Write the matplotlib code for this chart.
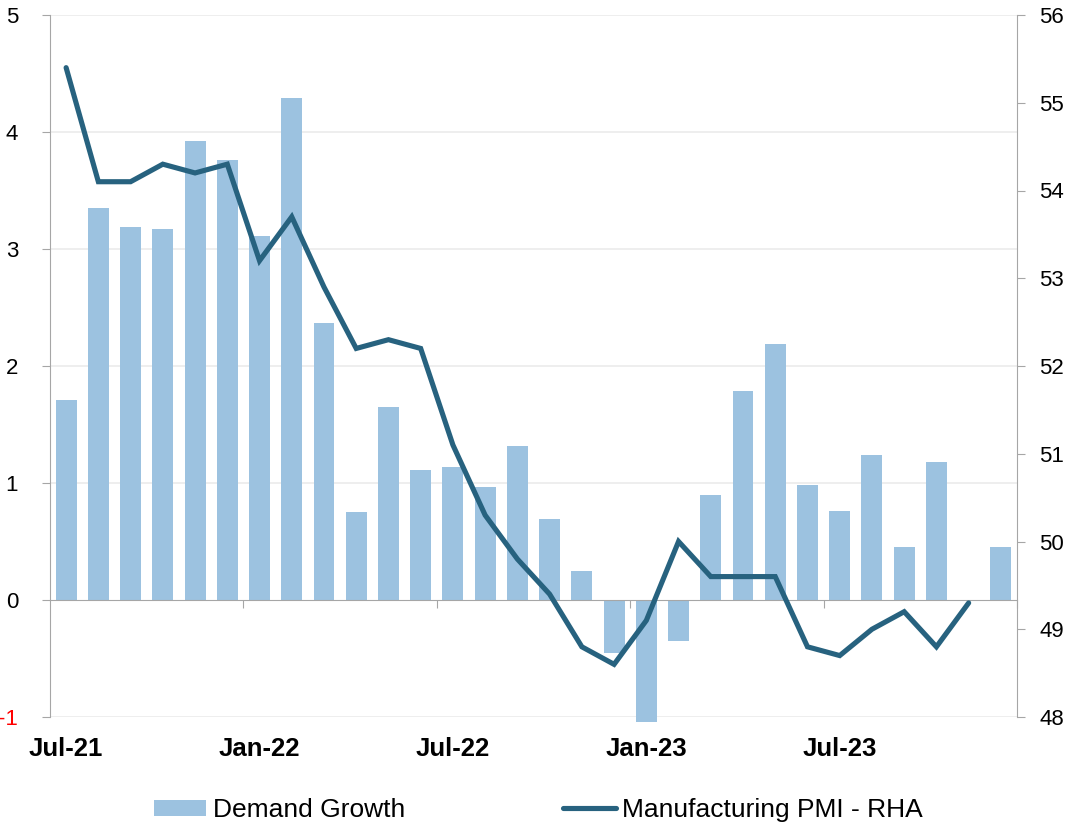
import numpy as np
import matplotlib.pyplot as plt
from matplotlib.ticker import FuncFormatter
import matplotlib.transforms as mtransforms

plt.rcParams['font.family'] = ['Liberation Sans', 'DejaVu Sans']

# monthly data, Jul-21 .. Dec-23
months = ['Jul-21', 'Aug-21', 'Sep-21', 'Oct-21', 'Nov-21', 'Dec-21',
          'Jan-22', 'Feb-22', 'Mar-22', 'Apr-22', 'May-22', 'Jun-22',
          'Jul-22', 'Aug-22', 'Sep-22', 'Oct-22', 'Nov-22', 'Dec-22',
          'Jan-23', 'Feb-23', 'Mar-23', 'Apr-23', 'May-23', 'Jun-23',
          'Jul-23', 'Aug-23', 'Sep-23', 'Oct-23', 'Nov-23', 'Dec-23']
demand_growth = [1.71, 3.35, 3.19, 3.17, 3.92, 3.76,
                 3.11, 4.29, 2.37, 0.75, 1.65, 1.11,
                 1.14, 0.97, 1.32, 0.69, 0.25, -0.45,
                 -1.04, -0.35, 0.90, 1.79, 2.19, 0.98,
                 0.76, 1.24, 0.45, 1.18, np.nan, 0.455]
pmi = [55.4, 54.1, 54.1, 54.3, 54.2, 54.3,
       53.2, 53.7, 52.9, 52.2, 52.3, 52.2,
       51.1, 50.3, 49.8, 49.4, 48.8, 48.6,
       49.1, 50.0, 49.6, 49.6, 49.6, 48.8,
       48.7, 49.0, 49.2, 48.8, 49.3, np.nan]
label_every = 6

bar_color = '#9CC2E0'
line_color = '#27627F'
axis_grey = '#A6A6A6'

fig = plt.figure(figsize=(10.69, 8.25), dpi=100)
ax = fig.add_axes([50/1069, 1 - 717/825, 967/1069, 702/825])
ax2 = ax.twinx()

x = np.arange(len(months))
bars = ax.bar(x, demand_growth, width=0.65, color=bar_color, zorder=2,
              label='Demand Growth')
for b in bars:
    b.set_clip_on(False)
ax2.plot(x, pmi, color=line_color, lw=3.7, solid_capstyle='round',
         solid_joinstyle='miter', label='Manufacturing PMI - RHA', zorder=3)

ax.set_xlim(-0.5, len(months) - 0.5)
ax.set_ylim(-1, 5)
ax2.set_ylim(48, 56)
ax.set_yticks(range(-1, 6))
ax2.set_yticks(range(48, 57))
ax.yaxis.set_major_formatter(FuncFormatter(lambda v, p: '%d' % v if v >= 0 else '-%d' % abs(v)))

# gridlines
for v in [-1, 1, 2, 3, 4, 5]:
    ax.axhline(v, color='#EBEBEB', lw=1.2, zorder=0)

# x axis sits on zero, ticks at category boundaries
ax.spines['bottom'].set_position(('data', 0))
ax.spines['bottom'].set_color(axis_grey)
ax.spines['bottom'].set_zorder(4)
ax.set_xticks(np.arange(label_every - 0.5, len(months), label_every))
ax.tick_params(axis='x', length=6, color=axis_grey, labelbottom=False, direction='out')

trans = mtransforms.blended_transform_factory(ax.transData, ax.transAxes)
for i in range(0, len(months), label_every):
    ax.text(i, -0.046, months[i], transform=trans, ha='center', va='center',
            fontsize=18.5, fontweight='bold')

for a in (ax, ax2):
    a.spines['top'].set_visible(False)
ax2.spines['bottom'].set_visible(False)
ax.spines['left'].set_color(axis_grey)
ax2.spines['right'].set_color(axis_grey)
ax2.spines['left'].set_visible(False)
ax.spines['right'].set_visible(False)

ax.tick_params(axis='y', length=6, color=axis_grey, labelsize=16, pad=17)
ax2.tick_params(axis='y', length=6, color=axis_grey, labelsize=16, pad=10)
ax.get_yticklabels()[0].set_color('red')

h1, l1 = ax.get_legend_handles_labels()
h2, l2 = ax2.get_legend_handles_labels()
fig.legend(h1 + h2, l1 + l2, loc='center', bbox_to_anchor=(0.5037, 15/825), ncol=2,
           frameon=False, fontsize=19, handlelength=1.98, handleheight=0.55,
           handletextpad=0.25, columnspacing=6.0, borderpad=0)

fig.savefig('out.png', dpi=100)
